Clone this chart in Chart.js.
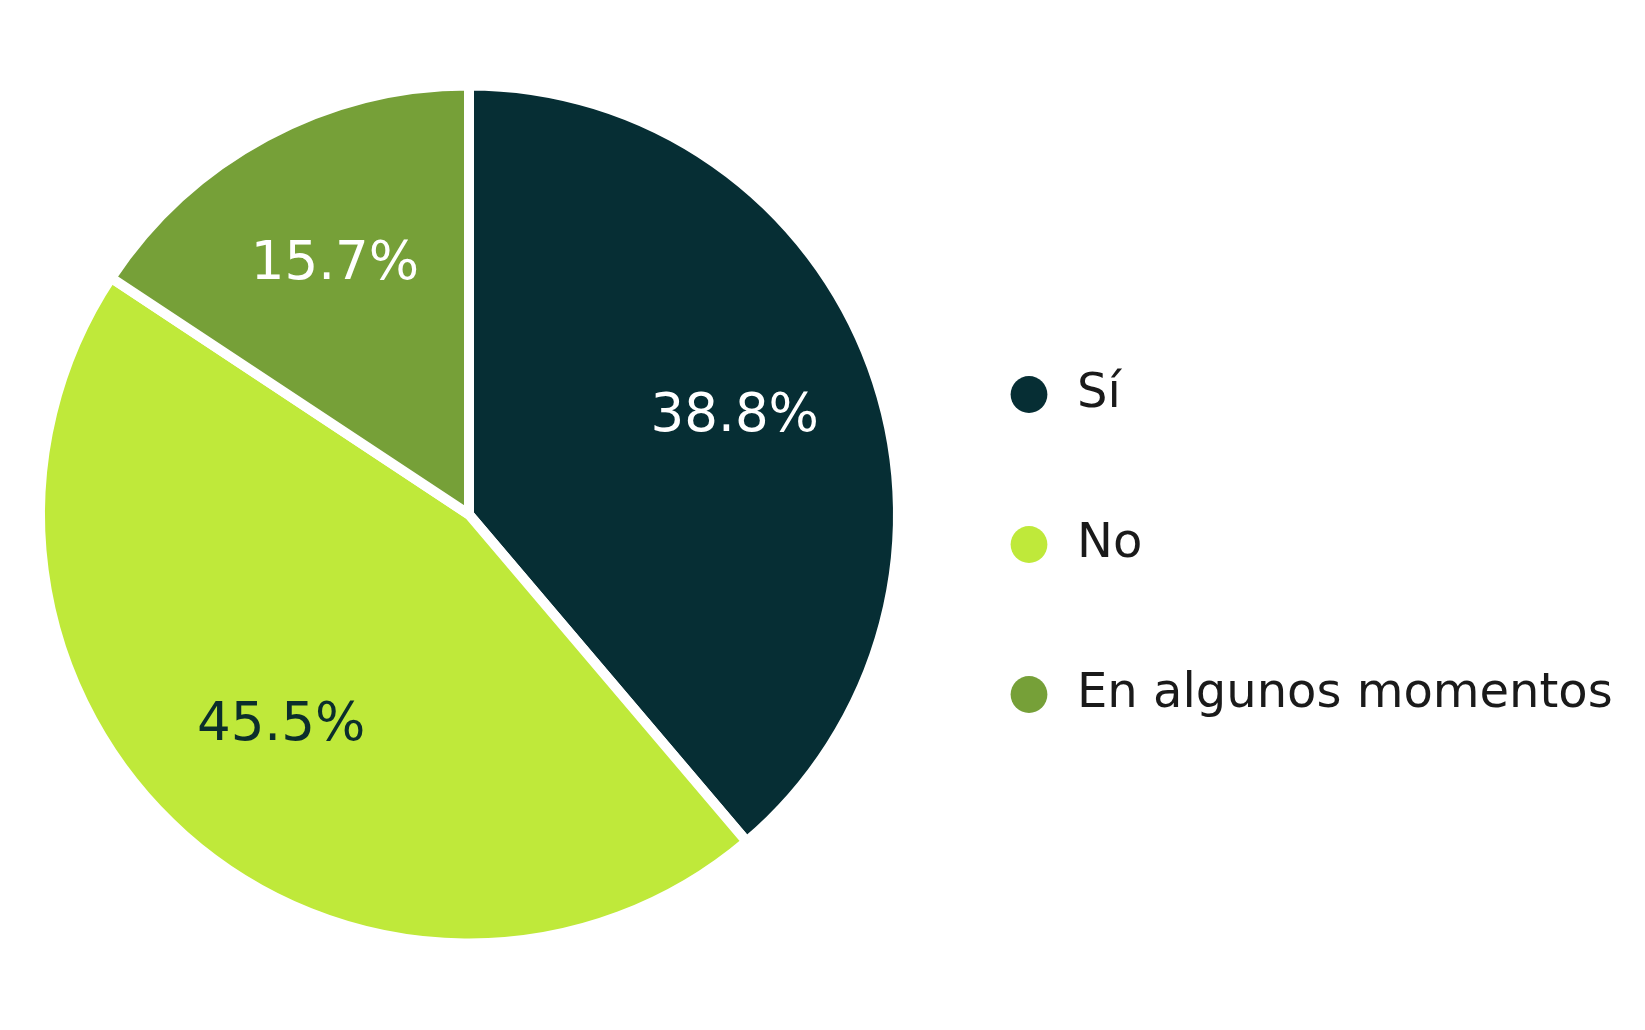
<!DOCTYPE html>
<html lang="es">
<head>
<meta charset="utf-8">
<title>Encuesta</title>
<script src="https://cdn.jsdelivr.net/npm/chart.js@4.4.1/dist/chart.umd.min.js"></script>
<style>
    html, body { margin: 0; padding: 0; background: #ffffff; }
    #wrap { width: 1645px; height: 1030px; position: relative; }
</style>
</head>
<body>
<div id="wrap"><canvas id="pie-chart"></canvas></div>
<script>
// Datos de la gráfica
const categorias = ['Sí', 'No', 'En algunos momentos'];
const porcentajes = [38.8, 45.5, 15.7];
const colores = ['#062e34', '#bfe93a', '#76a038'];
const coloresTexto = ['#ffffff', '#0b2e2c', '#ffffff'];

const FUENTE = '"DejaVu Sans"';
const TAM_LEYENDA = 48;
const PAD_LEYENDA = 102;

// Ancho de la leyenda para que empiece donde queremos (x = 903)
const medir = document.createElement('canvas').getContext('2d');
medir.font = TAM_LEYENDA + 'px ' + FUENTE;
const textoMax = Math.max(...categorias.map(c => medir.measureText(c).width));
const anchoLeyenda = PAD_LEYENDA + TAM_LEYENDA + TAM_LEYENDA / 2 + textoMax + 10;
const padDerecha = Math.max(0, 1645 - 903 - anchoLeyenda);

// Etiquetas de porcentaje dentro de cada sector
const etiquetasPlugin = {
    id: 'etiquetas',
    afterDatasetsDraw(chart) {
        const ctx = chart.ctx;
        const meta = chart.getDatasetMeta(0);
        ctx.save();
        ctx.font = '53px ' + FUENTE;
        ctx.textAlign = 'center';
        ctx.textBaseline = 'middle';
        meta.data.forEach((arc, i) => {
            const p = arc.getProps(['x', 'y', 'startAngle', 'endAngle', 'outerRadius'], true);
            const ang = (p.startAngle + p.endAngle) / 2;
            const r = p.outerRadius * 0.66;
            ctx.fillStyle = coloresTexto[i];
            ctx.fillText(porcentajes[i].toFixed(1) + '%', p.x + Math.cos(ang) * r, p.y + Math.sin(ang) * r);
        });
        ctx.restore();
    }
};

// Baja un poco la leyenda
const leyendaOffset = {
    id: 'leyendaOffset',
    afterLayout(chart) {
        if (chart.legend) {
            chart.legend.top += 30;
            chart.legend.bottom += 30;
        }
    }
};

const ctx = document.getElementById('pie-chart').getContext('2d');
const pieChart = new Chart(ctx, {
    type: 'pie',
    data: {
        labels: categorias,
        datasets: [{
            data: porcentajes,
            backgroundColor: colores,
            borderColor: '#ffffff',
            borderWidth: 10
        }]
    },
    options: {
        responsive: true,
        maintainAspectRatio: false,
        animation: false,
        layout: {
            padding: { left: 35, right: padDerecha, top: 80, bottom: 81 }
        },
        plugins: {
            tooltip: { enabled: false },
            legend: {
                position: 'right',
                labels: {
                    usePointStyle: true,
                    pointStyle: 'circle',
                    boxWidth: TAM_LEYENDA,
                    boxHeight: 26,
                    padding: PAD_LEYENDA,
                    color: '#1a1a1a',
                    font: { family: FUENTE, size: TAM_LEYENDA, lineHeight: 1 },
                    generateLabels: (chart) =>
                        Chart.overrides.pie.plugins.legend.labels.generateLabels(chart)
                            .map(item => ({ ...item, lineWidth: 0, pointStyle: 'circle' }))
                }
            }
        }
    },
    plugins: [etiquetasPlugin, leyendaOffset]
});
</script>
</body>
</html>
